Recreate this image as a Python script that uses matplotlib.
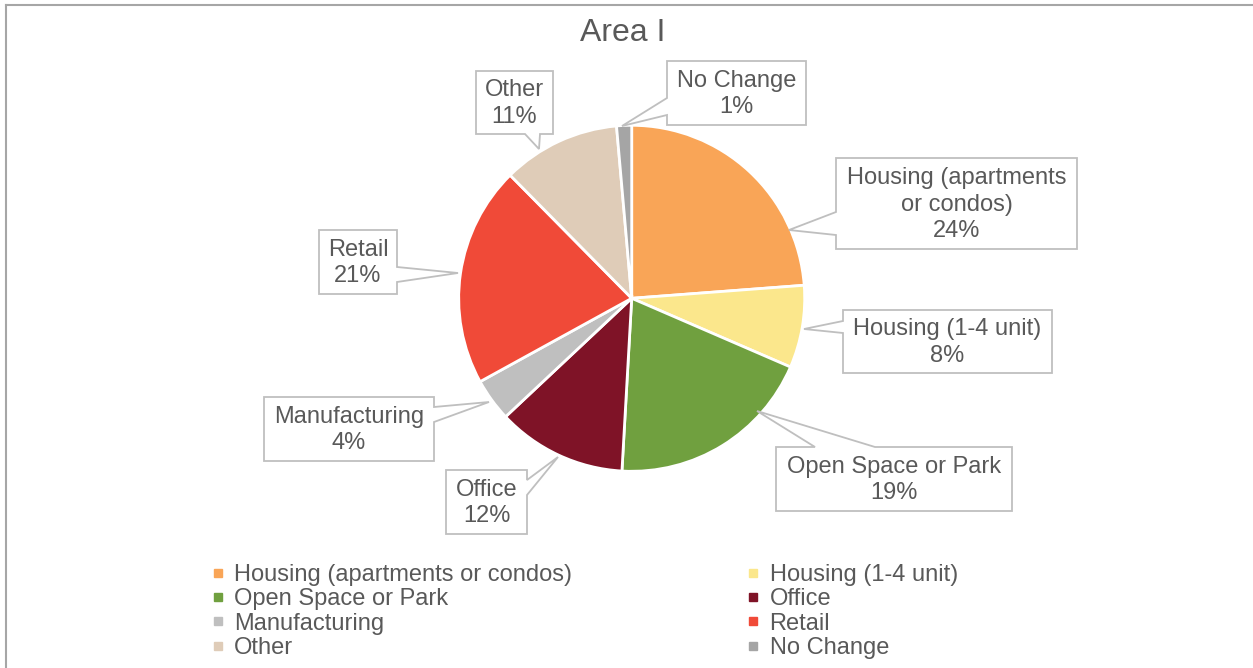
import textwrap
import matplotlib
matplotlib.use("Agg")
import matplotlib.pyplot as plt
from matplotlib.patches import Polygon
from matplotlib.lines import Line2D

plt.rcParams['font.family'] = ['Liberation Sans', 'DejaVu Sans']

# data
categories = ["Housing (apartments or condos)", "Housing (1-4 unit)", "Open Space or Park",
              "Office", "Manufacturing", "Retail", "Other", "No Change"]
shares = [23.8, 7.7, 19.4, 12.1, 4.0, 20.6, 11.0, 1.4]
colors = ["#F9A557", "#FBE78C", "#70A03F", "#7F1327", "#BFBFBF", "#F04A38", "#DFCCB8", "#A5A5A5"]
title = "Area I"

W, H = 1253, 668
TXT = "#595959"
LINE = "#BFBFBF"

# callout boxes in pixels (y down): box x0, y0, x1, y1, tip, side, base start, base end
callouts = [
    (836, 158, 1077, 249, (789, 230), "left", 212, 235),
    (843, 310, 1052, 373, (804, 329), "left", 321, 333),
    (776, 447, 1012, 511, (757, 411), "top", 815, 875),
    (446, 470, 527, 534, (558, 457), "right", 480, 495),
    (264, 397, 434, 461, (489, 402), "right", 407, 422),
    (319, 230, 397, 294, (458, 273), "right", 267, 282),
    (476, 71, 553, 134, (539, 149), "bottom", 525, 540),
    (667, 61, 806, 125, (622, 126), "left", 98, 115),
]


def callout_shape(x0, y0, x1, y1, tip, side, b0, b1):
    pts = [(x0, y0)]
    if side == "top":
        pts += [(b0, y0), tip, (b1, y0)]
    pts += [(x1, y0)]
    if side == "right":
        pts += [(x1, b0), tip, (x1, b1)]
    pts += [(x1, y1)]
    if side == "bottom":
        pts += [(b1, y1), tip, (b0, y1)]
    pts += [(x0, y1)]
    if side == "left":
        pts += [(x0, b1), tip, (x0, b0)]
    return [(x, H - y) for x, y in pts]


fig = plt.figure(figsize=(W / 100, H / 100), dpi=100)
ax = fig.add_axes([0, 0, 1, 1])

wedges, _ = ax.pie(shares, colors=colors, startangle=90, counterclock=False,
                   center=(631.7, H - 298.3), radius=173, frame=True,
                   wedgeprops=dict(edgecolor="white", linewidth=2))
ax.set_xlim(0, W)
ax.set_ylim(0, H)
ax.axis("off")

for (x0, y0, x1, y1, tip, side, b0, b1), name, v in zip(callouts, categories, shares):
    ax.add_patch(Polygon(callout_shape(x0, y0, x1, y1, tip, side, b0, b1), closed=True,
                         facecolor="white", edgecolor=LINE, linewidth=1.3, zorder=3))
    label = textwrap.fill(name, 19) + f"\n{v:.0f}%"
    ax.text((x0 + x1) / 2, H - (y0 + y1) / 2 - 1, label, ha="center", va="center",
            fontsize=17, color=TXT, linespacing=1.29, zorder=4)

ax.text(623, H - 33, title, ha="center", va="center", fontsize=23, color=TXT)

# legend, row-wise order like the original
order = [0, 2, 4, 6, 1, 3, 5, 7]
handles = [Line2D([], [], linestyle="none", marker="s", markersize=5.5,
                  markerfacecolor=colors[i], markeredgecolor=colors[i]) for i in order]
ax.legend(handles, [categories[i] for i in order], ncol=2, loc="upper left",
          bbox_to_anchor=(211 / W, 1 - 564 / H), frameon=False, fontsize=17,
          labelcolor=TXT, handlelength=0.6, handletextpad=0.38, columnspacing=7.38,
          labelspacing=0.1, borderpad=0, borderaxespad=0)

# chart area border (top and left only visible)
fig.add_artist(Line2D([6 / W, 1], [1 - 5 / H, 1 - 5 / H], color="#A6A6A6", linewidth=1.5))
fig.add_artist(Line2D([6 / W, 6 / W], [0, 1 - 5 / H], color="#A6A6A6", linewidth=1.5))

fig.savefig("out.png", dpi=100)
